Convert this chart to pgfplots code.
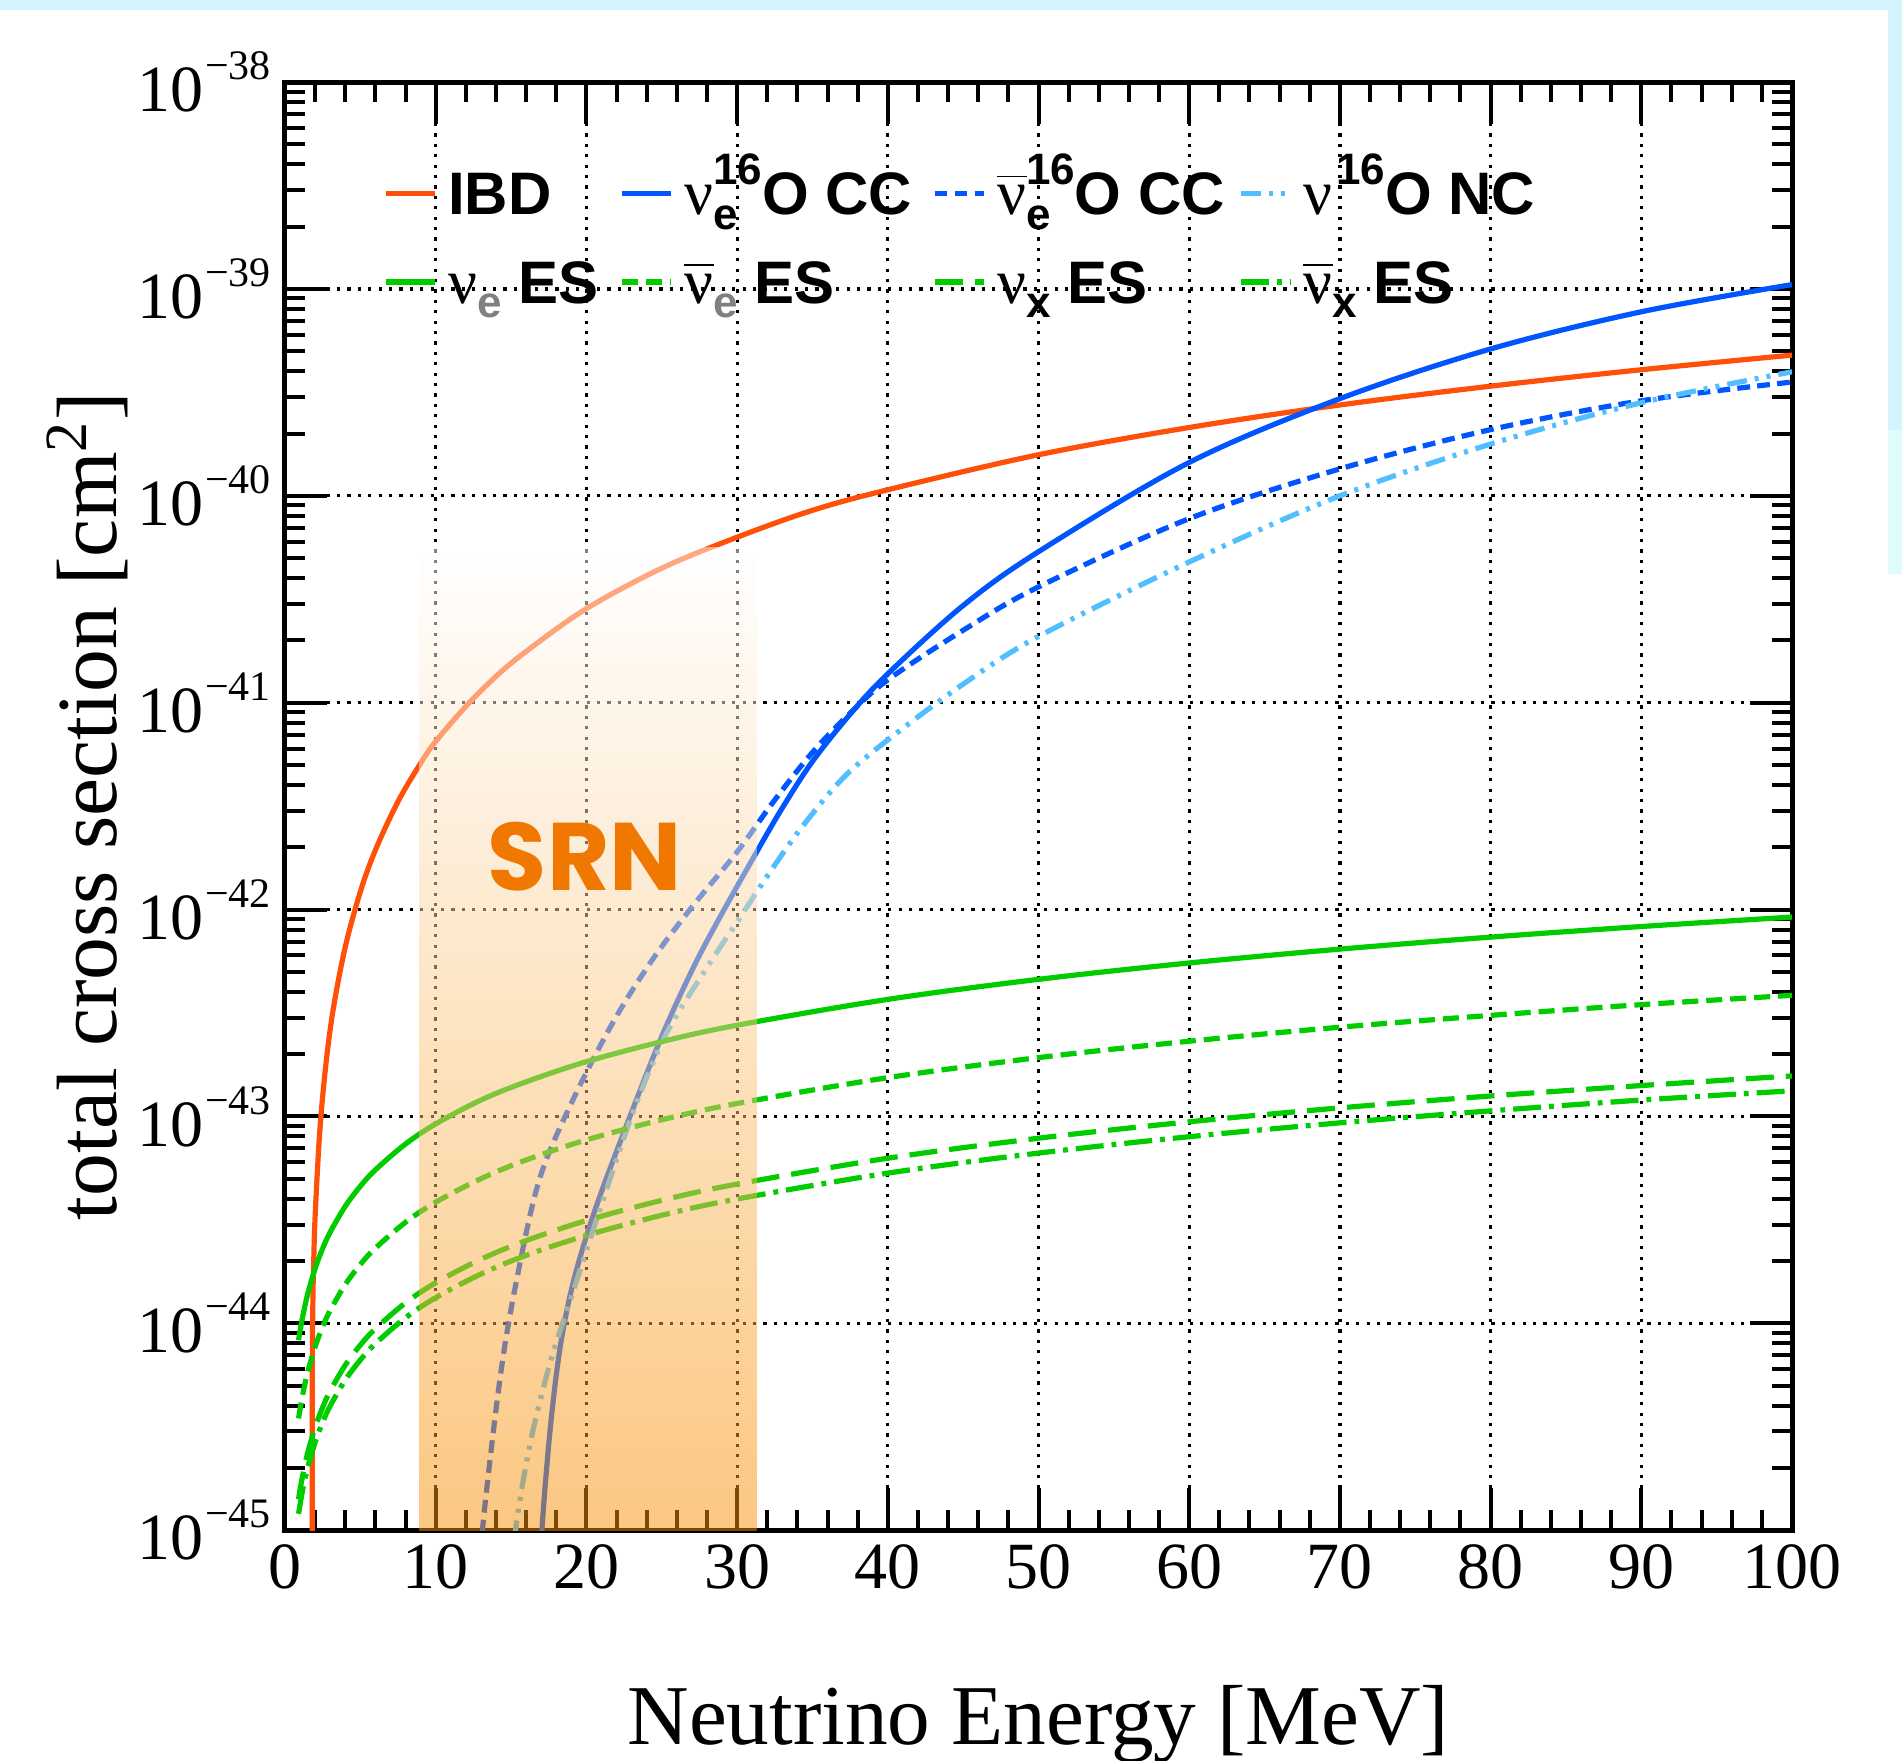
\documentclass[border=0pt]{standalone}
\usepackage{fontspec}
\setmainfont{Liberation Serif}
\setsansfont{Liberation Sans}
\newfontfamily\nufont{Liberation Serif}
\newfontfamily\srnfont{Poppins}
\usepackage{pgfplots}
\pgfplotsset{compat=1.18}

\definecolor{ibd}{RGB}{255,80,10}
\definecolor{ccblue}{RGB}{0,85,255}
\definecolor{ncblue}{RGB}{80,190,255}
\definecolor{esgreen}{RGB}{0,204,0}
\definecolor{srnfill}{RGB}{249,145,5}
\definecolor{srntext}{RGB}{240,120,0}
\definecolor{frameA}{RGB}{212,243,253}
\definecolor{frameB}{RGB}{224,253,254}

% legend pieces: serif nu, bar, sub- and superscripts
\newcommand{\lgnu}{{\nufont\mdseries\fontsize{16}{16}\selectfont ν}}
\newcommand{\lgnubar}{\rlap{\raisebox{9.4pt}{\rule{7.5pt}{0.45pt}}}\lgnu}
\newcommand{\lgsub}[1]{\raisebox{-3.6pt}{\fontsize{11}{11}\selectfont #1}}
\newcommand{\lgsup}[1]{\raisebox{7.5pt}{\fontsize{11}{11}\selectfont #1}}
% y tick labels 10^-n in the text font
\newcommand{\ytl}[1]{10\hspace{0.5pt}\raisebox{8pt}{\fontsize{10.5}{12}\selectfont −#1}}

\begin{document}
\begin{tikzpicture}
% page background with the light frame strips
\fill[white] (-71.25pt,-57.5pt) rectangle (404.25pt,382.5pt);
\fill[frameA] (-71.25pt,380pt) rectangle (404.25pt,382.5pt);
\fill[frameA] (400.75pt,275pt) rectangle (404.25pt,382.5pt);
\fill[frameB] (400.75pt,239pt) rectangle (404.25pt,275pt);
\begin{axis}[
  scale only axis, width=376.75pt, height=362pt,
  xmin=0, xmax=100, ymin=1e-45, ymax=1e-38, ymode=log,
  xtick={0,10,...,100}, minor x tick num=4,
  ytick={1e-45,1e-44,1e-43,1e-42,1e-41,1e-40,1e-39,1e-38},
  yticklabels={\ytl{45},\ytl{44},\ytl{43},\ytl{42},\ytl{41},\ytl{40},\ytl{39},\ytl{38}},
  tick align=inside, xtick pos=both, ytick pos=both,
  xticklabel pos=lower, yticklabel pos=left,
  major tick length=10.5pt, minor tick length=5pt,
  tick style={black, line width=1pt},
  axis line style={line width=1.25pt},
  grid=major,
  major grid style={black, line width=0.8pt, dash pattern=on 0.8pt off 1.8pt},
  ticklabel style={font=\fontsize{16.5}{18}\selectfont},
  /pgf/number format/assume math mode=true,
  xlabel={Neutrino Energy [MeV]},
  ylabel={total cross section [cm\textsuperscript{2}]},
  every axis x label/.style={at={(axis description cs:0.5,-0.1478)}, anchor=base,
    font=\fontsize{21.3}{24}\selectfont},
  every axis y label/.style={at={(axis description cs:-0.1115,0.5)}, rotate=90, anchor=base,
    font=\fontsize{21.4}{24}\selectfont},
  legend columns=4,
  legend cell align=left,
  legend image code/.code={\draw[#1, line width=1.3pt] (0pt,0pt) -- (12.25pt,0pt);},
  legend style={at={(axis description cs:0.0651,0.9378)}, anchor=north west,
    draw=none, fill=none, inner sep=0pt, outer sep=0pt,
    column sep=0pt, row sep=11.4pt,
    font=\sffamily\bfseries\fontsize{15}{18}\selectfont,
    nodes={inner sep=0pt, outer sep=0pt, text height=10.7pt, text depth=0pt}},
  every axis plot/.append style={line width=1.3pt, smooth, tension=0.55},
]
% inverse beta decay
\addplot[ibd] coordinates {
 (1.803,1e-46) (1.81,4.7e-45) (1.85,1.27e-44) (1.9,1.9e-44) (2.0,3.3e-44)
 (2.3,8.3e-44) (2.7,1.75e-43) (3.2,3.3e-43) (4.0,6.6e-43) (5.0,1.22e-42)
 (6.0,1.94e-42) (7.5,3.33e-42) (9.0,5.1e-42) (10,6.5e-42) (12,9.6e-42) (14,1.34e-41)
 (16,1.77e-41) (20,2.85e-41) (25,4.47e-41) (30,6.31e-41) (35,8.51e-41)
 (40,1.07e-40) (50,1.58e-40) (60,2.14e-40) (70,2.75e-40) (80,3.39e-40)
 (90,4.07e-40) (100,4.79e-40)};
\addlegendentry{\makebox[45.5pt][l]{\hspace{2.75pt}IBD}}
% nu_e 16O charged current
\addplot[ccblue] coordinates {
 (16.95,5e-46) (17.05,1.0e-45) (17.6,3.09e-45) (18.25,7.59e-45) (19.1,1.55e-44)
 (20.4,3.24e-44) (22.2,7.4e-44) (24.9,2.34e-43) (27.1,5.25e-43) (28.9,9.3e-43)
 (31.3,1.9e-42) (33,3.1e-42) (35,5.2e-42) (37.5,8.8e-42) (40,1.38e-41)
 (45,2.95e-41) (50,5.37e-41) (60,1.45e-40) (70,2.95e-40) (80,5.13e-40)
 (90,7.76e-40) (100,1.05e-39)};
\addlegendentry{\makebox[64.6pt][l]{\hspace{2.75pt}\lgnu\rlap{\lgsub{e}}\lgsup{16}O CC}}
% anti-nu_e 16O charged current
\addplot[ccblue, dash pattern=on 3.2pt off 1.8pt] coordinates {
 (12.95,5e-46) (13.1,1e-45) (14.3,5.62e-45) (15.4,1.66e-44) (16.9,5.01e-44)
 (19.1,1.20e-43) (21.8,2.88e-43) (24.4,5.75e-43) (27.1,1.05e-42) (30,1.9e-42)
 (32.5,3.39e-42) (35,5.75e-42) (37.5,8.9e-42) (40,1.29e-41) (45,2.24e-41)
 (50,3.63e-41) (60,7.76e-41) (70,1.35e-40) (80,2.09e-40) (90,2.88e-40)
 (100,3.55e-40)};
\addlegendentry{\makebox[63pt][l]{\hspace{2.75pt}\lgnubar\rlap{\lgsub{e}}\lgsup{16}O CC}}
% nu 16O neutral current
\addplot[ncblue, dash pattern=on 5pt off 2pt on 1pt off 2pt on 1pt off 2pt] coordinates {
 (15.15,5e-46) (15.3,1e-45) (16.3,2.69e-45) (17.6,6.46e-45) (19.1,1.41e-44)
 (20.9,3.55e-44) (23.1,1.05e-43) (25.3,2.51e-43) (28.0,5.25e-43) (30.0,8.71e-43)
 (32,1.45e-42) (34.2,2.45e-42) (37,4.3e-42) (40,6.61e-42) (45,1.23e-41)
 (50,2.09e-41) (60,4.79e-41) (70,1.0e-40) (80,1.78e-40) (90,2.82e-40)
 (100,3.98e-40)};
\addlegendentry{\hspace{2.75pt}\lgnu\hspace{1pt}\lgsup{16}O NC}
% electron scattering
\addplot[esgreen] coordinates {
 (0.9,8.28e-45) (1,9.2e-45) (1.2,1.10e-44) (1.5,1.38e-44) (2,1.84e-44) (2.5,2.3e-44)
 (3,2.76e-44) (4,3.68e-44) (5,4.6e-44) (6,5.52e-44) (8,7.36e-44) (10,9.2e-44)
 (13,1.20e-43) (16,1.47e-43) (20,1.84e-43) (25,2.3e-43) (30,2.76e-43) (40,3.68e-43)
 (50,4.6e-43) (60,5.52e-43) (70,6.44e-43) (80,7.36e-43) (90,8.28e-43) (100,9.2e-43)};
\addlegendentry{\makebox[45.5pt][l]{\hspace{2.75pt}\lgnu\lgsub{\color{gray}e} ES}}
\addplot[esgreen, dash pattern=on 4pt off 2pt] coordinates {
 (0.9,3.47e-45) (1,3.85e-45) (1.2,4.62e-45) (1.5,5.78e-45) (2,7.7e-45) (2.5,9.63e-45)
 (3,1.155e-44) (4,1.54e-44) (5,1.925e-44) (6,2.31e-44) (8,3.08e-44) (10,3.85e-44)
 (13,5.0e-44) (16,6.16e-44) (20,7.7e-44) (25,9.63e-44) (30,1.155e-43) (40,1.54e-43)
 (50,1.925e-43) (60,2.31e-43) (70,2.7e-43) (80,3.08e-43) (90,3.47e-43) (100,3.85e-43)};
\addlegendentry{\makebox[64.6pt][l]{\hspace{2.75pt}\lgnubar\lgsub{\color{gray}e} ES}}
\addplot[esgreen, dash pattern=on 7pt off 3pt] coordinates {
 (0.9,1.41e-45) (1,1.57e-45) (1.2,1.88e-45) (1.5,2.36e-45) (2,3.14e-45) (2.5,3.93e-45)
 (3,4.71e-45) (4,6.28e-45) (5,7.85e-45) (6,9.42e-45) (8,1.256e-44) (10,1.57e-44)
 (13,2.04e-44) (16,2.51e-44) (20,3.14e-44) (25,3.93e-44) (30,4.71e-44) (40,6.28e-44)
 (50,7.85e-44) (60,9.42e-44) (70,1.10e-43) (80,1.256e-43) (90,1.41e-43) (100,1.57e-43)};
\addlegendentry{\makebox[63pt][l]{\hspace{2.75pt}\lgnu\lgsub{x} ES}}
\addplot[esgreen, dash pattern=on 7pt off 2pt on 1.2pt off 2pt] coordinates {
 (0.9,1.20e-45) (1,1.33e-45) (1.2,1.60e-45) (1.5,2.0e-45) (2,2.66e-45) (2.5,3.33e-45)
 (3,3.99e-45) (4,5.32e-45) (5,6.65e-45) (6,7.98e-45) (8,1.064e-44) (10,1.33e-44)
 (13,1.73e-44) (16,2.13e-44) (20,2.66e-44) (25,3.33e-44) (30,3.99e-44) (40,5.32e-44)
 (50,6.65e-44) (60,7.98e-44) (70,9.31e-44) (80,1.064e-43) (90,1.20e-43) (100,1.33e-43)};
\addlegendentry{\hspace{2.75pt}\lgnubar\lgsub{x} ES}
% SRN energy window, shaded over the curves
\addplot[forget plot, draw=none, sharp plot, top color=white, bottom color=srnfill, fill opacity=0.5]
 coordinates {(8.9,1e-45) (8.9,5.6e-41) (31.3,5.6e-41) (31.3,1e-45)} -- cycle;
\node[text=srntext, font=\srnfont\bfseries\fontsize{24}{24}\selectfont]
 at (axis cs:19.9,1.8e-42) {SRN};
\end{axis}
\pgfresetboundingbox
\useasboundingbox (-71.25pt,-57.5pt) rectangle (404.25pt,382.5pt);
\end{tikzpicture}
\end{document}
